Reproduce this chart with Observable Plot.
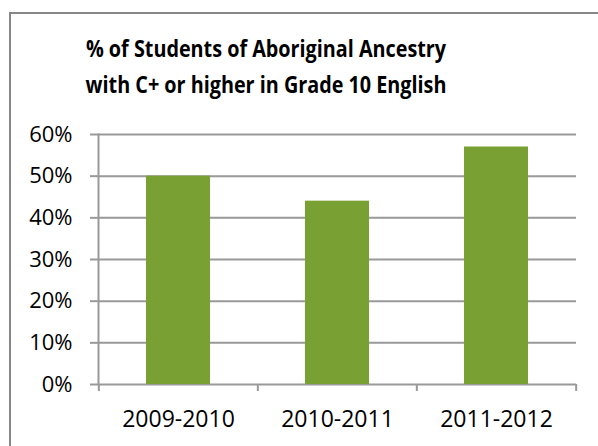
<!DOCTYPE html>
<html>
<head>
<meta charset="utf-8">
<script src="https://cdn.jsdelivr.net/npm/d3@7"></script>
<script src="https://cdn.jsdelivr.net/npm/@observablehq/plot@0.6"></script>
<style>
  html, body { margin: 0; padding: 0; background: #fff; }
  #wrap { position: relative; width: 598px; height: 446px; overflow: hidden; font-family: "Open Sans", sans-serif; }
  #border { position: absolute; left: 9px; top: 12px; width: 600px; height: 460px; border-left: 2px solid #878787; border-top: 2px solid #878787; box-sizing: border-box; }
  #title { position: absolute; left: 16px; width: 500px; top: 30px; text-align: center; font-weight: 700; font-size: 23px; line-height: 36px; color: #000; transform: scaleX(0.86); transform-origin: 250px 0; }
  #chart { position: absolute; left: 0; top: 0; }
</style>
</head>
<body>
<div id="wrap">
  <div id="border"></div>
  <div id="title"></div>
  <div id="chart"></div>
</div>
<script>
const titleLines = ["% of Students of Aboriginal Ancestry", "with C+ or higher in Grade 10 English"];
const years = ["2009-2010", "2010-2011", "2011-2012"];
const values = [0.50, 0.44, 0.57];
const yTicks = [0, 0.1, 0.2, 0.3, 0.4, 0.5, 0.6];

const titleEl = document.getElementById("title");
titleLines.forEach((t, i) => {
  if (i) titleEl.appendChild(document.createElement("br"));
  titleEl.appendChild(document.createTextNode(t));
});

const data = years.map((y, i) => ({year: y, value: values[i]}));

const W = 598, H = 446;
const mL = 98, mR = 22, mT = 134, mB = 62;
const pIn = 0.6, pOut = 0.3;
const step = (W - mL - mR) / (years.length - pIn + 2 * pOut);
const gridColor = "#999999";

const chart = Plot.plot({
  width: W,
  height: H,
  marginLeft: mL,
  marginRight: mR,
  marginTop: mT,
  marginBottom: mB,
  style: {fontFamily: "Open Sans, sans-serif", fontSize: "22px", color: "#000", background: "transparent", overflow: "visible"},
  x: {domain: years, paddingInner: pIn, paddingOuter: pOut, align: 0.5},
  y: {domain: [0, 0.6], ticks: yTicks, tickFormat: d3.format(".0%")},
  marks: [
    Plot.ruleY(yTicks, {y: d => d, stroke: gridColor, strokeWidth: 2}),
    Plot.barY(data, {x: "year", y: "value", fill: "#79a032"}),
    Plot.frame({anchor: "left", stroke: gridColor, strokeWidth: 2}),
    Plot.ruleX(years, {x: d => d, dx: -step / 2, stroke: gridColor, strokeWidth: 2, insetTop: H - mT - mB, insetBottom: -7}),
    Plot.ruleX([years[years.length - 1]], {x: d => d, dx: step / 2, stroke: gridColor, strokeWidth: 2, insetTop: H - mT - mB, insetBottom: -7}),
    Plot.axisY({ticks: yTicks, tickFormat: d3.format(".0%"), tickSize: 8, tickPadding: 18, stroke: gridColor, strokeWidth: 2, fontSize: 22, label: null, fill: "#000"}),
    Plot.axisX({tickSize: 0, tickPadding: 26, fontSize: 23, label: null, fill: "#000"})
  ]
});
document.getElementById("chart").appendChild(chart);
</script>
</body>
</html>
